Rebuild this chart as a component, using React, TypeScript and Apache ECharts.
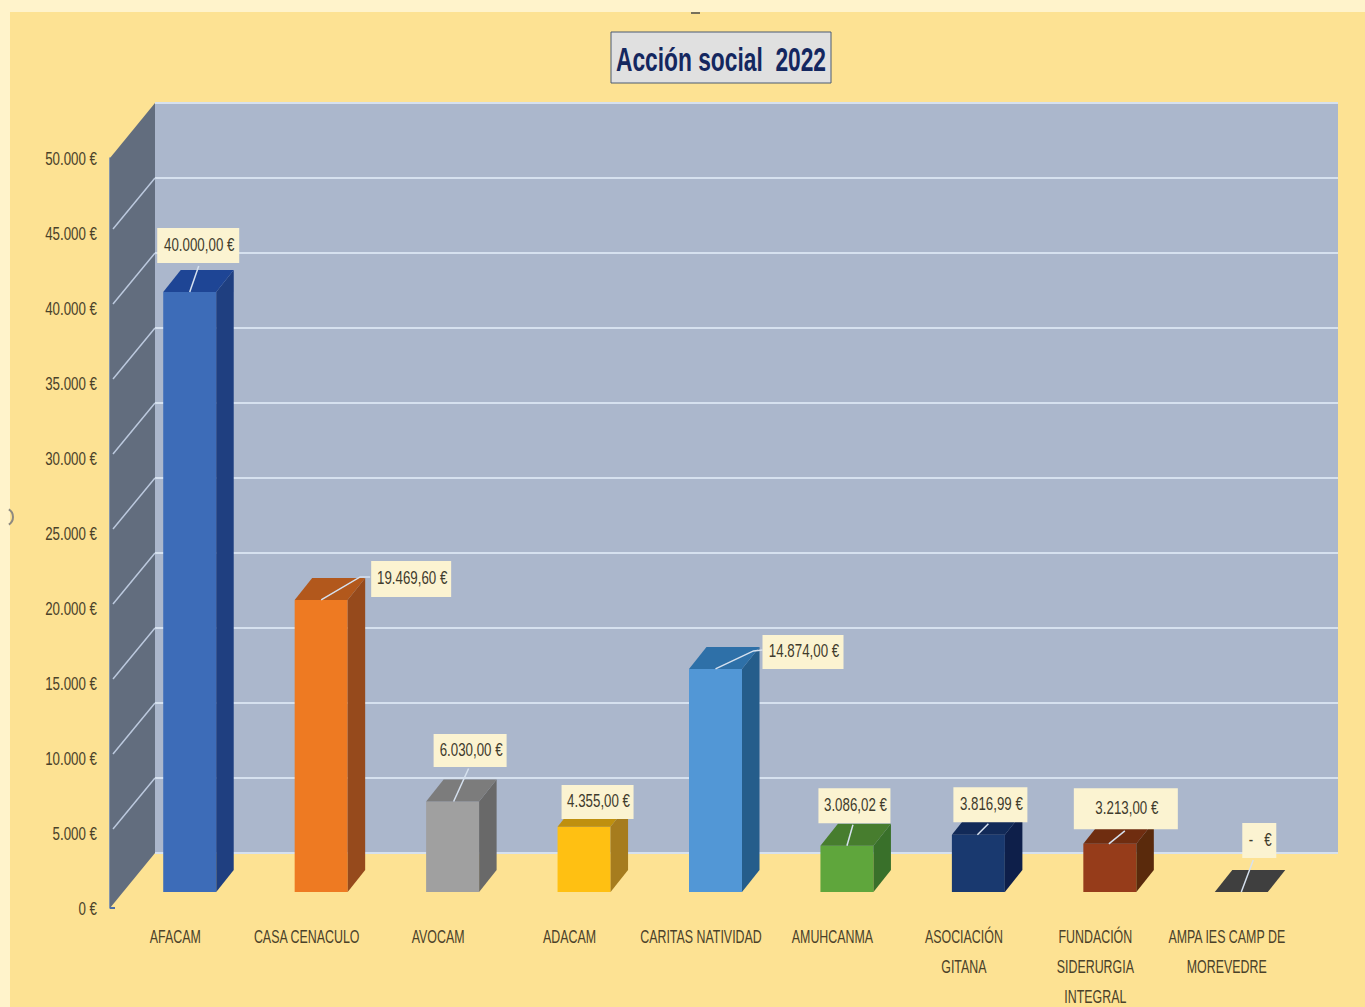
import React, { useEffect, useRef } from "react";
import * as echarts from "echarts";

const categories = [
  "AFACAM",
  "CASA CENACULO",
  "AVOCAM",
  "ADACAM",
  "CARITAS NATIVIDAD",
  "AMUHCANMA",
  "ASOCIACIÓN\nGITANA",
  "FUNDACIÓN\nSIDERURGIA\nINTEGRAL",
  "AMPA IES CAMP DE\nMOREVEDRE",
];
const values = [40000, 19469.6, 6030, 4355, 14874, 3086.02, 3816.99, 3213, 0];
const dataLabels = [
  "40.000,00 €",
  "19.469,60 €",
  "6.030,00 €",
  "4.355,00 €",
  "14.874,00 €",
  "3.086,02 €",
  "3.816,99 €",
  "3.213,00 €",
  "-   €",
];
const yTicks = [0, 5000, 10000, 15000, 20000, 25000, 30000, 35000, 40000, 45000, 50000];

const frontColors = ["#3D6CB8", "#EE7A22", "#A0A0A0", "#FFC012", "#5297D6", "#5FA63C", "#19396F", "#963C1A", "#3F3F3F"];
const sideColors = ["#1F3F80", "#964A1C", "#696969", "#A67C1E", "#255D8B", "#39702A", "#0E1F4A", "#5A2A0C", "#3F3F3F"];
const topColors = ["#1E4595", "#B2581C", "#7C7C7C", "#BF900F", "#2E70A8", "#477D2E", "#122A58", "#6F2D10", "#3F3F3F"];

// label box: centre offset from the bar's front-top centre, then size
const labelOffsets = [[8.5, -46.5], [90, -21], [17.5, -51], [13.5, -24.7], [87.5, -17], [7.5, -40], [12, -30], [16, -35], [18, -51.5]];
const labelSizes = [[82, 35], [80, 36], [73, 33], [72, 34], [81, 34], [72, 35], [74, 35], [104, 41], [34, 35]];
// leader polyline points, as offsets from the same centre
const leaders = [
  [[0, 0], [9, -26]],
  [[0, 0], [39, -23], [49, -23]],
  [[1, 0], [16, -33]],
  [],
  [[0, 0], [38, -18], [47, -19]],
  [[0, 0], [6, -21]],
  [[-1, 0], [10, -11]],
  [[-1, 0], [15, -13]],
  [[0, 0], [12, -32]],
];

const FONT = '"Liberation Sans", Arial, sans-serif';
const TEXT = "#4A4129";
const GRID = "#D6E1EF";
const DEPTH_X = 45;
const DEPTH_Y = 55;
const BAR_W = 53;
const BAR_DX = 17.5;
const BAR_DY = 22;
const BAR_SHIFT_X = 14;
const BAR_SHIFT_Y = 16;

const fmtTick = (v: number) =>
  (v === 0 ? "0" : String(v).replace(/(\d)(\d{3})$/, "$1.$2")) + " €";

function renderWalls(params: any, api: any) {
  const cs = params.coordSys;
  const x0 = cs.x;
  const x1 = cs.x + cs.width;
  const yB = api.coord([0, 0])[1];
  const yT = api.coord([0, 50000])[1];
  return {
    type: "group",
    children: [
      {
        type: "polygon",
        shape: { points: [[x0 + DEPTH_X, yT - DEPTH_Y], [x1 + DEPTH_X, yT - DEPTH_Y], [x1 + DEPTH_X, yB - DEPTH_Y], [x0 + DEPTH_X, yB - DEPTH_Y]] },
        style: { fill: "#ABB7CC" },
      },
      {
        type: "polygon",
        shape: { points: [[x0, yT], [x0 + DEPTH_X, yT - DEPTH_Y], [x0 + DEPTH_X, yB - DEPTH_Y], [x0, yB]] },
        style: { fill: "#626D7E" },
      },
      {
        type: "line",
        shape: { x1: x0, y1: yB, x2: x0 + 5, y2: yB },
        style: { stroke: "#4E6FA6", lineWidth: 2 },
      },
    ],
  };
}

function renderGrid(params: any, api: any) {
  const cs = params.coordSys;
  const x0 = cs.x;
  const x1 = cs.x + cs.width;
  const v = api.value(1);
  const y = api.coord([0, v])[1];
  const children: any[] = [
    {
      type: "line",
      shape: { x1: x0 + DEPTH_X, y1: y - DEPTH_Y, x2: x1 + DEPTH_X, y2: y - DEPTH_Y },
      style: { stroke: GRID, lineWidth: 2 },
    },
    {
      type: "text",
      x: x0 - 13,
      y: y + 1,
      scaleX: 0.74,
      style: {
        text: fmtTick(v),
        align: "right",
        verticalAlign: "middle",
        fontFamily: FONT,
        fontSize: 18,
        fill: TEXT,
      },
    },
  ];
  if (v !== 0 && v !== 50000) {
    children.push({
      type: "line",
      shape: { x1: x0 + 3, y1: y - 4, x2: x0 + DEPTH_X, y2: y - DEPTH_Y },
      style: { stroke: "#BCC9DE", lineWidth: 1.5 },
    });
  }
  return { type: "group", children };
}

function renderCategoryLabels(params: any, api: any) {
  const p = api.coord([params.dataIndex, 0]);
  return {
    type: "text",
    x: p[0] - 0.5,
    y: p[1] + 14,
    scaleX: 0.69,
    style: {
      text: categories[params.dataIndex],
      align: "center",
      verticalAlign: "top",
      fontFamily: FONT,
      fontSize: 18,
      lineHeight: 30,
      fill: TEXT,
    },
  };
}

function renderBars(params: any, api: any) {
  const i = params.dataIndex;
  const base = api.coord([i, 0]);
  const top = api.coord([i, api.value(1)]);
  const cx = base[0] + BAR_SHIFT_X;
  const l = cx - BAR_W / 2;
  const r = cx + BAR_W / 2;
  const yb = base[1] - BAR_SHIFT_Y;
  const yt = top[1] - BAR_SHIFT_Y;
  const children: any[] = [];
  if (yb - yt > 0.5) {
    children.push({
      type: "polygon",
      shape: { points: [[l, yt], [r, yt], [r, yb], [l, yb]] },
      style: { fill: frontColors[i] },
    });
    children.push({
      type: "polygon",
      shape: { points: [[r, yt], [r + BAR_DX, yt - BAR_DY], [r + BAR_DX, yb - BAR_DY], [r, yb]] },
      style: { fill: sideColors[i] },
    });
  }
  children.push({
    type: "polygon",
    shape: { points: [[l, yt], [l + BAR_DX, yt - BAR_DY], [r + BAR_DX, yt - BAR_DY], [r, yt]] },
    style: { fill: topColors[i] },
  });
  const [ox, oy] = labelOffsets[i];
  const [w, h] = labelSizes[i];
  if (leaders[i].length) {
    children.push({
      type: "polyline",
      shape: { points: leaders[i].map(([a, b]) => [cx + a, yt + b]) },
      style: { fill: "none", stroke: GRID, lineWidth: 1.5 },
    });
  }
  children.push({
    type: "rect",
    shape: { x: cx + ox - w / 2, y: yt + oy - h / 2, width: w, height: h },
    style: { fill: "#FBF3D1" },
  });
  children.push({
    type: "text",
    x: cx + ox + 1,
    y: yt + oy - 1,
    scaleX: 0.74,
    style: {
      text: dataLabels[i],
      align: "center",
      verticalAlign: "middle",
      fontFamily: FONT,
      fontSize: 18,
      fill: "#3F3B2C",
    },
  });
  return { type: "group", children };
}

export default function App() {
  const ref = useRef<HTMLDivElement>(null);
  useEffect(() => {
    document.body.style.margin = "0";
    const chart = echarts.init(ref.current!, undefined, { renderer: "svg" });
    chart.setOption({
      animation: false,
      backgroundColor: "#FFF3CB",
      grid: { left: 110, top: 158, width: 1183, height: 750, outerBoundsMode: "none", containLabel: false },
      xAxis: {
        type: "category",
        data: categories,
        axisLine: { show: false },
        axisTick: { show: false },
        axisLabel: { show: false },
      },
      yAxis: {
        type: "value",
        min: 0,
        max: 50000,
        interval: 5000,
        splitLine: { show: false },
        axisTick: { show: false },
        axisLine: { show: true, lineStyle: { color: "#5C7DB3", width: 1.5 } },
        axisLabel: { show: false },
      },
      graphic: [
        { type: "rect", z: -10, shape: { x: 10, y: 12, width: 1355, height: 995 }, style: { fill: "#FDE293" } },
        { type: "rect", z: -9, shape: { x: 691, y: 12, width: 9, height: 2 }, style: { fill: "#77705A" } },
        { type: "arc", z: -9, shape: { cx: 4, cy: 517, r: 9, startAngle: -1, endAngle: 1 }, style: { stroke: "#8E8A80", fill: "none", lineWidth: 2 } },
        { type: "rect", z: 20, shape: { x: 611, y: 32, width: 220, height: 51 }, style: { fill: "#E0E0E0", stroke: "#4A5A72", lineWidth: 1 } },
        {
          type: "text",
          z: 21,
          x: 721,
          y: 59,
          scaleX: 0.67,
          style: {
            text: "Acción social  2022",
            align: "center",
            verticalAlign: "middle",
            fontFamily: FONT,
            fontWeight: "bold",
            fontSize: 34,
            fill: "#14275F",
          },
        },
      ],
      series: [
        { type: "custom", z: 1, silent: true, clip: false, renderItem: renderWalls, data: [[0, 0]], encode: { x: 0, y: 1 } },
        { type: "custom", z: 2, silent: true, clip: false, renderItem: renderGrid, data: yTicks.map((t) => [0, t]), encode: { x: 0, y: 1 } },
        { type: "custom", z: 3, silent: true, clip: false, renderItem: renderBars, data: values.map((v, i) => [i, v]), encode: { x: 0, y: 1 } },
        { type: "custom", z: 4, silent: true, clip: false, renderItem: renderCategoryLabels, data: categories.map((_, i) => [i, 0]), encode: { x: 0, y: 1 } },
      ],
    });
    return () => chart.dispose();
  }, []);
  return <div ref={ref} style={{ position: "absolute", left: 0, top: 0, width: 1365, height: 1007 }} />;
}
